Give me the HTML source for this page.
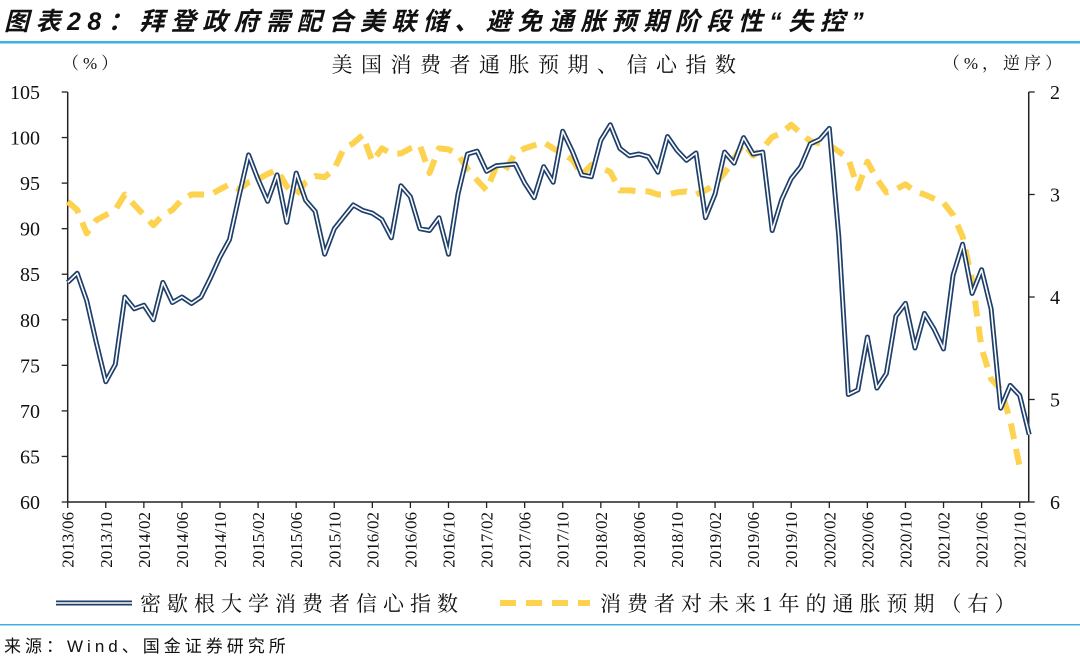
<!DOCTYPE html>
<html><head><meta charset="utf-8"><style>
body{margin:0;background:#fff;}
svg{display:block;}
</style></head><body>
<svg width="1080" height="660" viewBox="0 0 1080 660" xmlns="http://www.w3.org/2000/svg">
<text x="4" y="30" letter-spacing="6.5" font-family="'Liberation Sans','Noto Sans CJK SC',sans-serif" font-size="25" font-weight="bold" font-style="italic" fill="#111">图表28：拜登政府需配合美联储、避免通胀预期阶段性“失控”</text>
<rect x="0" y="41" width="1080" height="2.5" fill="#3fb0e6"/>
<rect x="0" y="624" width="1080" height="1.5" fill="#3fb0e6"/>
<text x="4" y="652" letter-spacing="4" font-family="'Liberation Sans','Noto Sans CJK SC',sans-serif" font-size="17" fill="#111">来源：Wind、国金证券研究所</text>
<text x="62" y="69" letter-spacing="4" font-family="'Liberation Serif','Noto Serif CJK SC',serif" font-size="17" fill="#111">（%）</text>
<text x="538" y="72" text-anchor="middle" letter-spacing="8.5" font-family="'Liberation Serif','Noto Serif CJK SC',serif" font-size="21" fill="#111">美国消费者通胀预期、信心指数</text>
<text x="1066" y="69" text-anchor="end" letter-spacing="4" font-family="'Liberation Serif','Noto Serif CJK SC',serif" font-size="17" fill="#111">（%，逆序）</text>
<g id="axes"></g>
<g id="series"></g>
<g id="legend">
  <g>
    <line x1="56" y1="603" x2="132" y2="603" stroke="#1f3f6b" stroke-width="5"/>
    <line x1="56" y1="603" x2="132" y2="603" stroke="#fff" stroke-width="1.6"/>
    <text x="140" y="611" letter-spacing="6" font-family="'Liberation Serif','Noto Serif CJK SC',serif" font-size="21" fill="#111">密歇根大学消费者信心指数</text>
  </g>
  <g>
    <line x1="500" y1="603" x2="590" y2="603" stroke="#fdd24f" stroke-width="6" stroke-dasharray="16,10"/>
    <text x="600" y="611" letter-spacing="6" font-family="'Liberation Serif','Noto Serif CJK SC',serif" font-size="21" fill="#111">消费者对未来1年的通胀预期（右）</text>
  </g>
</g>
</svg>
<script>
const sentiment=[84.1,85.1,82.1,77.5,73.2,75.1,82.5,81.2,81.6,80.0,84.1,81.9,82.5,81.8,82.5,84.6,86.9,88.8,93.6,98.1,95.4,93.0,95.9,90.7,96.1,93.1,91.9,87.2,90.0,91.3,92.6,92.0,91.7,91.0,89.0,94.7,93.5,90.0,89.8,91.2,87.2,93.8,98.2,98.5,96.3,96.9,97.0,97.1,95.0,93.4,96.8,95.1,100.7,98.5,95.9,95.7,99.7,101.4,98.8,98.0,98.2,97.9,96.2,100.1,98.6,97.5,98.3,91.2,93.8,98.4,97.2,100.0,98.2,98.4,89.8,93.2,95.5,96.8,99.3,99.8,101.0,89.1,71.8,72.3,78.1,72.5,74.1,80.4,81.8,76.9,80.7,79.0,76.8,84.9,88.3,82.9,85.5,81.2,70.3,72.8,71.7,67.4];
const expectation=[3.07,3.15,3.38,3.25,3.2,3.15,3.0,3.1,3.2,3.3,3.2,3.15,3.05,3.0,3.0,3.0,2.95,2.9,2.95,2.88,2.85,2.8,2.76,2.92,3.0,2.88,2.82,2.83,2.75,2.55,2.5,2.42,2.68,2.55,2.6,2.6,2.55,2.52,2.79,2.55,2.56,2.61,2.75,2.86,2.96,2.73,2.76,2.6,2.55,2.52,2.49,2.55,2.6,2.66,2.81,2.71,2.74,2.78,2.96,2.96,2.97,2.97,3.0,3.0,2.98,2.97,3.0,2.96,2.9,2.79,2.65,2.5,2.62,2.55,2.44,2.4,2.32,2.4,2.48,2.5,2.52,2.58,2.65,2.94,2.68,2.85,2.98,2.95,2.9,2.97,3.0,3.04,3.08,3.2,3.41,3.83,4.5,4.8,4.9,5.2,5.66];
const leftTicks=[60,65,70,75,80,85,90,95,100,105];
const rightTicks=[2,3,4,5,6];
const startYear=2013, startMonth=6;

const NS='http://www.w3.org/2000/svg';
const X0=67.7, DX=9.52, YT=92, YB=502;
const xs=i=>X0+DX*i;
const yL=v=>YB-(v-60)/(105-60)*(YB-YT);
const yR=v=>YT+(v-2)/(6-2)*(YB-YT);
function mk(tag,attrs,parent){const e=document.createElementNS(NS,tag);for(const k in attrs)e.setAttribute(k,attrs[k]);parent.appendChild(e);return e;}
const axes=document.getElementById('axes'), ser=document.getElementById('series');
const serif="'Liberation Serif','DejaVu Serif',serif";
const nMonths=sentiment.length;
const la=mk('line',{x1:X0,y1:YT,x2:X0,y2:YB,stroke:'#222','stroke-width':1.5},axes);


leftTicks.forEach(v=>{
  const y=yL(v);
  const t=mk('line',{x1:X0-6,y1:y,x2:X0,y2:y,stroke:'#222','stroke-width':1.3},axes);
  
  
  const l=mk('text',{x:40,y:y+7,'text-anchor':'end','font-family':serif,'font-size':20,fill:'#111'},axes);
  l.textContent=v;
  
  
});
const XR=xs(nMonths-1)-0.5;
const ra=mk('line',{x1:XR,y1:YT,x2:XR,y2:YB,stroke:'#222','stroke-width':1.5},axes);


rightTicks.forEach(v=>{
  const y=yR(v);
  const t=mk('line',{x1:XR,y1:y,x2:XR+6,y2:y,stroke:'#222','stroke-width':1.3},axes);
  
  
  const l=mk('text',{x:1055,y:y+7,'text-anchor':'middle','font-family':serif,'font-size':20,fill:'#111'},axes);
  l.textContent=v;
  
  
});
const xa=mk('line',{x1:X0,y1:YB,x2:XR,y2:YB,stroke:'#222','stroke-width':1.5},axes);


for(let i=0;i<nMonths;i+=4){
  const x=xs(i);
  const t=mk('line',{x1:x,y1:YB,x2:x,y2:YB+6,stroke:'#222','stroke-width':1.3},axes);
  
  
  const m=startMonth-1+i, yr=startYear+Math.floor(m/12), mo=m%12+1;
  const l=mk('text',{x:0,y:0,transform:`translate(${x+6},${YB+10}) rotate(-90)`,'text-anchor':'end','font-family':serif,'font-size':17,fill:'#111'},axes);
  l.textContent=yr+'/'+String(mo).padStart(2,'0');
  
  
}
const pe=expectation.map((v,i)=>xs(i).toFixed(1)+','+yR(v).toFixed(1)).join(' ');
const le=mk('polyline',{points:pe,fill:'none',stroke:'#fdd24f','stroke-width':6,'stroke-dasharray':'16,10','stroke-linejoin':'round'},ser);


const ps=sentiment.map((v,i)=>xs(i).toFixed(1)+','+yL(v).toFixed(1)).join(' ');
const s1=mk('polyline',{points:ps,fill:'none',stroke:'#1f3f6b','stroke-width':5,'stroke-linejoin':'round'},ser);


const s2=mk('polyline',{points:ps,fill:'none',stroke:'#fff','stroke-width':1.6,'stroke-linejoin':'round'},ser);


</script>
</body></html>
